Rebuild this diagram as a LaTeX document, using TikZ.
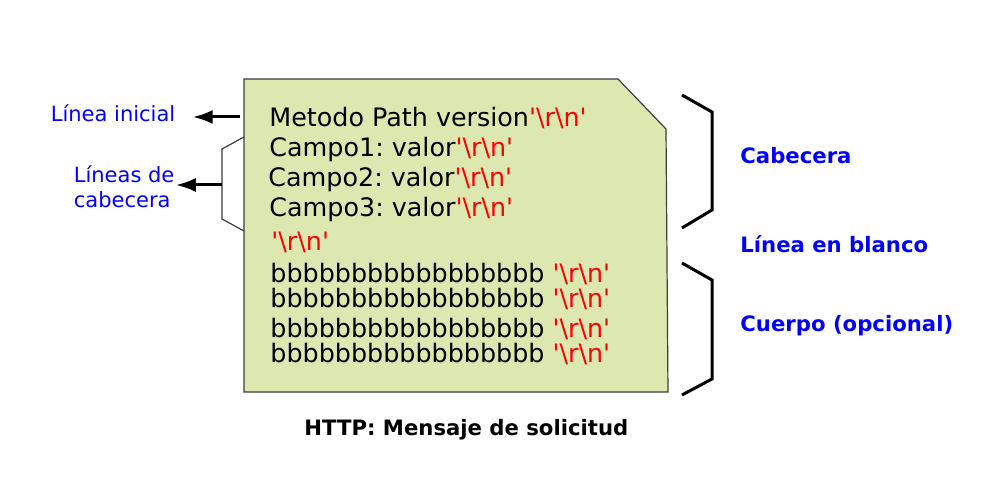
\documentclass[tikz,border=0pt]{standalone}
\usepackage{fontspec}
\setmainfont{DejaVu Sans}
\usepackage{tikz}
\usepackage{xcolor}
\usetikzlibrary{arrows.meta}

\definecolor{docfill}{RGB}{221,232,176}
\definecolor{docline}{RGB}{60,60,60}
\newcommand{\crlf}{\textcolor{red}{\textquotesingle\textbackslash r\textbackslash n\textquotesingle}}
\frenchspacing

\begin{document}
\begin{tikzpicture}[x=0.5pt,y=-0.5pt,>={Latex[length=10pt,width=7pt]},
  txt/.style={anchor=base west,inner sep=0pt,font=\fontsize{12.7}{15}\selectfont},
  lbl/.style={anchor=base west,inner sep=0pt,align=left,text=blue,font=\fontsize{10.5}{12.5}\selectfont},
  part/.style={anchor=base west,inner sep=0pt,text=blue,font=\fontsize{10.6}{12.5}\selectfont\bfseries},
  brk/.style={draw,line width=1.5pt,line join=miter},
  arr/.style={->,line width=1.5pt}]
  \useasboundingbox (0,0) rectangle (997,501);
  % the message sheet
  \draw[fill=docfill,draw=docline,line width=0.6pt] (244,79) -- (618,79) -- (666,129) -- (668,392) -- (244,392) -- cycle;
  \node[txt] (mline) at (269,127) {Metodo Path version\crlf};
  \node[txt] (camp1) at (269,157) {Campo1: valor\crlf};
  \node[txt] (camp2) at (268,187) {Campo2: valor\crlf};
  \node[txt] (camp3) at (269,217) {Campo3: valor\crlf};
  \node[txt] (blank) at (271,251) {\crlf};
  \node[txt] (body1) at (270,283) {bbbbbbbbbbbbbbbbb \crlf};
  \node[txt] (body2) at (270,308) {bbbbbbbbbbbbbbbbb \crlf};
  \node[txt] (body3) at (270,338) {bbbbbbbbbbbbbbbbb \crlf};
  \node[txt] (body4) at (270,363) {bbbbbbbbbbbbbbbbb \crlf};
  % left: labels and arrows
  \node[lbl] (lini) at (50.5,122) {Línea inicial};
  \node[lbl] (lcab) at (73.5,208) {Líneas de\\cabecera};
  \coordinate (t1) at (240,117);
  \coordinate (t2) at (222,185);
  \draw[docline,line width=0.6pt] (244,137) -- (222,149) -- (222,219) -- (244,231);
  \draw[arr,shorten >=8.5pt] (t1) -- (t1 -| lini.east);
  \draw[arr,shorten >=0.5pt] (t2) -- (t2 -| lcab.east);
  % right: brackets and parts
  \draw[brk] (682,95) -- (712,112) -- (712,210) -- (682,228);
  \draw[brk] (682,263) -- (712,280) -- (712,379) -- (682,395);
  \node[part] (cab) at (740,164) {Cabecera};
  \node[part] (lbla) at (740,252.5) {Línea en blanco};
  \node[part] (cuer) at (740,331.5) {Cuerpo (opcional)};
  % caption
  \node[anchor=base west,inner sep=0pt,font=\fontsize{10.6}{13}\selectfont\bfseries] (capt) at (304,436) {HTTP: Mensaje de solicitud};
\end{tikzpicture}
\end{document}
